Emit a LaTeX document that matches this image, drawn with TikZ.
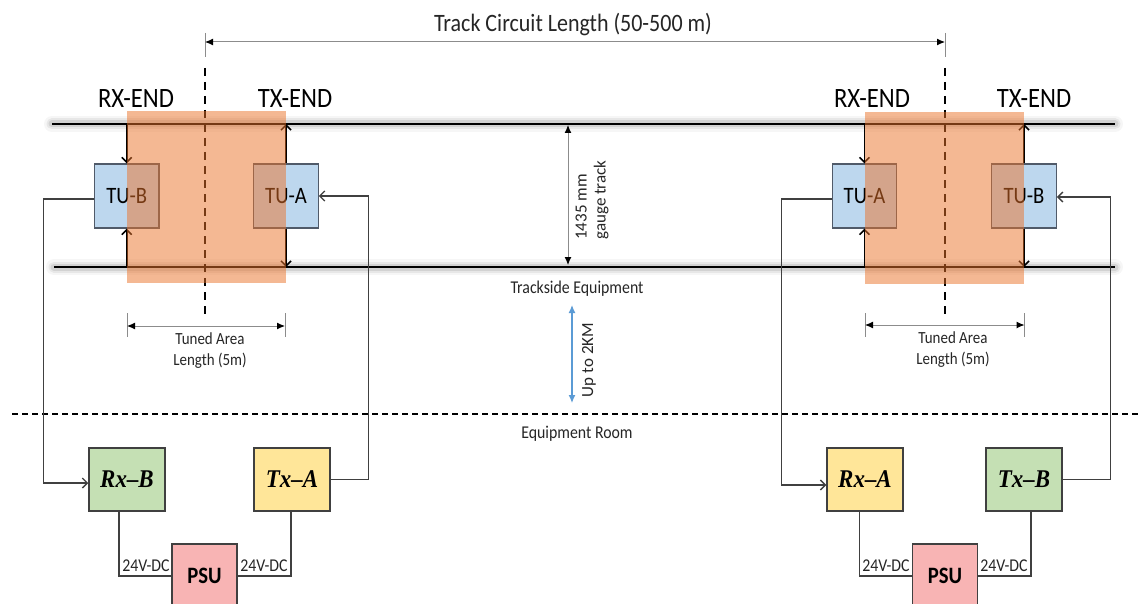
\documentclass[tikz,border=0pt]{standalone}
\usepackage{fontspec}
\setmainfont{Carlito}[FakeStretch=0.88]
\newfontfamily\plainfont{Carlito}
\newfontfamily\tnr{Liberation Serif}[FakeStretch=0.9]
\usetikzlibrary{arrows.meta}
\definecolor{tublue}{RGB}{189,215,238}
\definecolor{rxgreen}{RGB}{197,224,180}
\definecolor{txyellow}{RGB}{255,230,153}
\definecolor{psupink}{RGB}{248,180,180}
\definecolor{orng}{RGB}{235,115,41}
\definecolor{wire}{RGB}{64,64,64}
\definecolor{dimgray}{RGB}{140,140,140}
\definecolor{upblue}{RGB}{91,155,213}
\definecolor{tuborder}{RGB}{80,90,105}
\definecolor{txt}{RGB}{38,38,38}
\tikzset{
  tubox/.style={draw=tuborder, line width=1.3pt, fill=tublue, minimum width=64.5pt, minimum height=64pt, inner sep=0pt, font=\fontsize{23.5}{27}\selectfont},
  unitbox/.style={draw=wire, line width=1.5pt, minimum width=76pt, minimum height=63pt, inner sep=0pt, font=\tnr\bfseries\itshape\fontsize{25.5}{29}\selectfont},
  psubox/.style={draw=wire, line width=1.5pt, fill=psupink, minimum width=65pt, minimum height=64pt, inner sep=0pt, font=\bfseries\fontsize{23.5}{27}\selectfont},
  conn/.style={draw=wire, line width=1.3pt},
  barb/.style={-{Straight Barb[length=5pt,width=10pt]}},
  tuarr/.style={draw=black, line width=1.5pt, -{Straight Barb[length=5pt,width=10pt]}},
  dimline/.style={draw=dimgray, line width=1pt, {Latex[length=8pt,width=7pt,color=black]}-{Latex[length=8pt,width=7pt,color=black]}},
  dimtick/.style={draw=dimgray, line width=1pt},
  sectiondash/.style={draw=black, line width=2pt, dash pattern=on 8pt off 6pt},
  roomdash/.style={draw=black, line width=1.5pt, dash pattern=on 6pt off 4pt},
  endlabel/.style={anchor=base, inner sep=0pt, font=\fontsize{28}{32}\selectfont},
  smalllabel/.style={inner sep=0pt, text=txt, font=\fontsize{17}{21}\selectfont, align=center},
  midlabel/.style={inner sep=0pt, text=txt, font=\fontsize{18}{21}\selectfont},
  rotlabel/.style={inner sep=0pt, text=txt, rotate=90, font=\plainfont\fontsize{17}{19}\selectfont},
  railglow/.style={line cap=round, draw=black},
}
\begin{document}
\begin{tikzpicture}[x=1pt,y=-1pt]
\useasboundingbox (0,0) rectangle (1139,604);
\fill[white] (0,0) rectangle (1139,604);

% rails
\coordinate (rtl) at (52,124);
\coordinate (rtr) at (1115,124);
\coordinate (rbl) at (54,267);
\coordinate (rbr) at (1115,267);
\foreach \a/\b in {rtl/rtr, rbl/rbr}{
  \draw[railglow, line width=16pt, opacity=0.035] (\a) -- (\b);
  \draw[railglow, line width=11pt, opacity=0.06] (\a) -- (\b);
  \draw[railglow, line width=7pt, opacity=0.09] (\a) -- (\b);
  \draw[line width=2.8pt, black] (\a) -- (\b);
}

% track circuit length dimension
\coordinate (tcl) at (205,42);
\coordinate (tcr) at (945,42);
\draw[dimtick] (205,33) -- (205,57);
\draw[dimtick] (945,33) -- (945,57);
\draw[dimline] (tcl) -- (tcr);
\node[anchor=base, inner sep=0pt, text=txt, font=\fontsize{25}{29}\selectfont] (title) at (573,32) {Track Circuit Length (50-500 m)};

% section dashed lines
\coordinate (d1t) at (205,68);
\coordinate (d1b) at (205,316);
\coordinate (d2t) at (945,68);
\coordinate (d2b) at (945,316);
\draw[sectiondash] (d1t) -- (d1b);
\draw[sectiondash] (d2t) -- (d2b);

% end labels
\node[endlabel] (rx1) at (136,108) {RX-END};
\node[endlabel] (tx1) at (295,108) {TX-END};
\node[endlabel] (rx2) at (872,108) {RX-END};
\node[endlabel] (tx2) at (1034,108) {TX-END};

% tuning units
\node[tubox] (tub1) at (126.75,196) {TU-B};
\node[tubox] (tua1) at (286,196) {TU-A};
\node[tubox] (tua2) at (864.5,196) {TU-A};
\node[tubox] (tub2) at (1024,196) {TU-B};

% rail connection arrows
\coordinate (c1t) at (126.75,124);
\coordinate (c1b) at (126.75,267);
\coordinate (c2t) at (286,124);
\coordinate (c2b) at (286,267);
\coordinate (c3t) at (864.5,124);
\coordinate (c3b) at (864.5,267);
\coordinate (c4t) at (1024,124);
\coordinate (c4b) at (1024,267);
\draw[tuarr] (c1t) -- (tub1.north);
\draw[tuarr] (c1b) -- (tub1.south);
\draw[tuarr] (tua1.north) -- (c2t);
\draw[tuarr] (tua1.south) -- (c2b);
\draw[tuarr] (c3t) -- (tua2.north);
\draw[tuarr] (c3b) -- (tua2.south);
\draw[tuarr] (tub2.north) -- (c4t);
\draw[tuarr] (tub2.south) -- (c4b);

% tuned areas (transparent overlay)
\fill[orng, opacity=0.5] (127,111) rectangle (286,283);
\fill[orng, opacity=0.5] (864.5,112) rectangle (1024,284);

% gauge dimension
\coordinate (g1) at (568,125);
\coordinate (g2) at (568,265);
\draw[dimline] (g1) -- (g2);
\node[rotlabel, align=left] (gauge) at (592,200) {1435 mm\\gauge track};
\node[midlabel, anchor=base] (trk) at (577,293) {Trackside Equipment};

% up to 2km
\coordinate (u1) at (572,305);
\coordinate (u2) at (572,403);
\draw[draw=upblue, line width=1.3pt, {Latex[length=8pt,width=7pt]}-{Latex[length=8pt,width=7pt]}] (u1) -- (u2);
\node[rotlabel] (upto) at (589,360) {Up to 2KM};

% tuned area dimensions
\draw[dimtick] (127,313) -- (127,337);
\draw[dimtick] (285,313) -- (285,337);
\coordinate (ta1) at (127,326);
\coordinate (ta2) at (285,326);
\draw[dimline] (ta1) -- (ta2);
\node[smalllabel] (tal1) at (210,351) {Tuned Area\\Length (5m)};
\draw[dimtick] (865,313) -- (865,337);
\draw[dimtick] (1024.5,313) -- (1024.5,337);
\coordinate (tb1) at (865,325);
\coordinate (tb2) at (1024.5,325);
\draw[dimline] (tb1) -- (tb2);
\node[smalllabel] (tal2) at (953,350) {Tuned Area\\Length (5m)};

% room boundary
\coordinate (rm1) at (12,414);
\coordinate (rm2) at (1139,414);
\draw[roomdash] (rm1) -- (rm2);
\node[midlabel, anchor=base] (room) at (577,438) {Equipment Room};

% equipment room units
\node[unitbox, fill=rxgreen] (rxb) at (127,479.5) {Rx–B};
\node[unitbox, fill=txyellow] (txa) at (292,479.5) {Tx–A};
\node[unitbox, fill=txyellow] (rxa) at (865,479.5) {Rx–A};
\node[unitbox, fill=rxgreen] (txb) at (1024,479.5) {Tx–B};
\node[psubox] (psu1) at (204.5,576) {PSU};
\node[psubox] (psu2) at (945,576) {PSU};

% signal wiring
\draw[conn, barb] ([yshift=-3pt]tub1.west) -- ++(-50.5,0) |- ([yshift=-3.5pt]rxb.west);
\draw[conn, barb] (txa.east) -- ++(38,0) |- (tua1.east);
\draw[conn, barb] ([yshift=-3pt]tua2.west) -- ++(-50,0) |- ([yshift=-5.5pt]rxa.west);
\draw[conn, barb] (txb.east) -- ++(48,0) |- ([yshift=-1pt]tub2.east);

% power wiring
\draw[conn] ([xshift=-8pt]rxb.south) |- (psu1.west);
\draw[conn] ([xshift=-1pt]txa.south) |- (psu1.east);
\draw[conn] ([xshift=-5.5pt]rxa.south) |- (psu2.west);
\draw[conn] ([xshift=7pt]txb.south) |- (psu2.east);
\node[midlabel, anchor=base] (v1) at (146,571) {24V-DC};
\node[midlabel, anchor=base] (v2) at (264,571) {24V-DC};
\node[midlabel, anchor=base] (v3) at (886,571) {24V-DC};
\node[midlabel, anchor=base] (v4) at (1004,571) {24V-DC};
\end{tikzpicture}
\end{document}
